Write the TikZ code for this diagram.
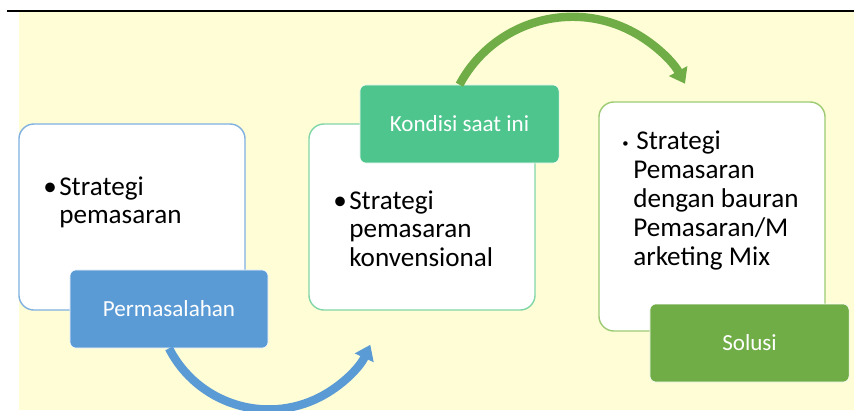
\documentclass[tikz,border=0pt]{standalone}
\usepackage{fontspec}
\setmainfont{Carlito}
\usetikzlibrary{positioning}
\usetikzlibrary{arrows.meta}

\begin{document}
\begin{tikzpicture}[x=0.025cm, y=-0.025cm]
    \definecolor{paper}{HTML}{FFFDD6}
    \definecolor{bluefill}{HTML}{5B9BD5}
    \definecolor{tealfill}{HTML}{4FC58E}
    \definecolor{greenfill}{HTML}{70AD47}
\definecolor{bluerim}{HTML}{7EB0E0}
\definecolor{tealrim}{HTML}{80D6A6}
\definecolor{greenrim}{HTML}{9CCB73}

\newcommand\panelw{5.65cm}
\newcommand\panelh{4.65cm}
\newcommand\tagw{4.975cm}
\newcommand\tagh{1.95cm}
\newcommand\hang{0.4cm}

\useasboundingbox (0, 0) rectangle (854, 410);
\fill[paper] (19, 11.5) rectangle (854, 410);
\draw[black, line width=0.05cm] (7, 10.5) -- (854, 10.5);

\begin{scope}
    \tikzset{
        panel/.style={
            fill=white, line width=0.035cm,
            rounded corners=0.375cm,
            minimum width=\panelw,
            minimum height=\panelh,
            inner sep=0pt,
        },
        tag/.style={
            draw=white, line width=0.4pt,
            rounded corners=0.15cm,
            minimum width=\tagw,
            minimum height=\tagh,
            inner sep=0pt, text=white,
            font=\fontsize{16.4pt}{19pt}\selectfont,
        },
        bullets/.style={
            anchor=base west, inner sep=0pt,
            text width=5cm, align=flush left,
            font=\fontsize{19.3pt}{20.6pt}\selectfont,
        },
    }

    \node[panel, draw=bluerim] at (132, 217) (panel-l) {};
    \node[panel, draw=tealrim] at (422, 217) (panel-c) {};
    \node[panel, draw=greenrim, minimum height=5.725cm] at (712, 216.5) (panel-r) {};

    \node[bullets] at (43, 195) (text-l)
        {\makebox[\hang][l]{\textbullet}Strategi\\
         \hspace*{\hang}pemasaran};
    \node[bullets] at (333, 209) (text-c)
        {\makebox[\hang][l]{\textbullet}Strategi\\
         \hspace*{\hang}pemasaran\\
         \hspace*{\hang}konvensional};
    \node[bullets] at (622, 149.5) (text-r)
        {\makebox[0.35cm][l]{\raisebox{0.05cm}{\small\textbullet}}Strategi\\
         \hspace*{0.275cm}Pemasaran\\
         \hspace*{0.275cm}dengan bauran\\
         \hspace*{0.275cm}Pemasaran/M\\
         \hspace*{0.275cm}arketing Mix};

    \node[tag, fill=bluefill, minimum width=4.95cm] at (169, 309) (tag-l) {Permasalahan};
    \node[tag, fill=tealfill] at (459.5, 124) (tag-c) {Kondisi saat ini};
    \node[tag, fill=greenfill] at (749.5, 343) (tag-r) {Solusi};
\end{scope}

    \draw[bluefill, line width=0.21cm, -{Triangle[length=0.36cm, width=0.5cm]}]
        (tag-l.south) arc[start angle=153, end angle=25, radius=112];

    \draw[greenfill, line width=0.21cm, -{Triangle[length=0.36cm, width=0.5cm]}]
        (tag-c.north) arc[start angle=208, end angle=331.5, radius=128];
\end{tikzpicture}
\end{document}
